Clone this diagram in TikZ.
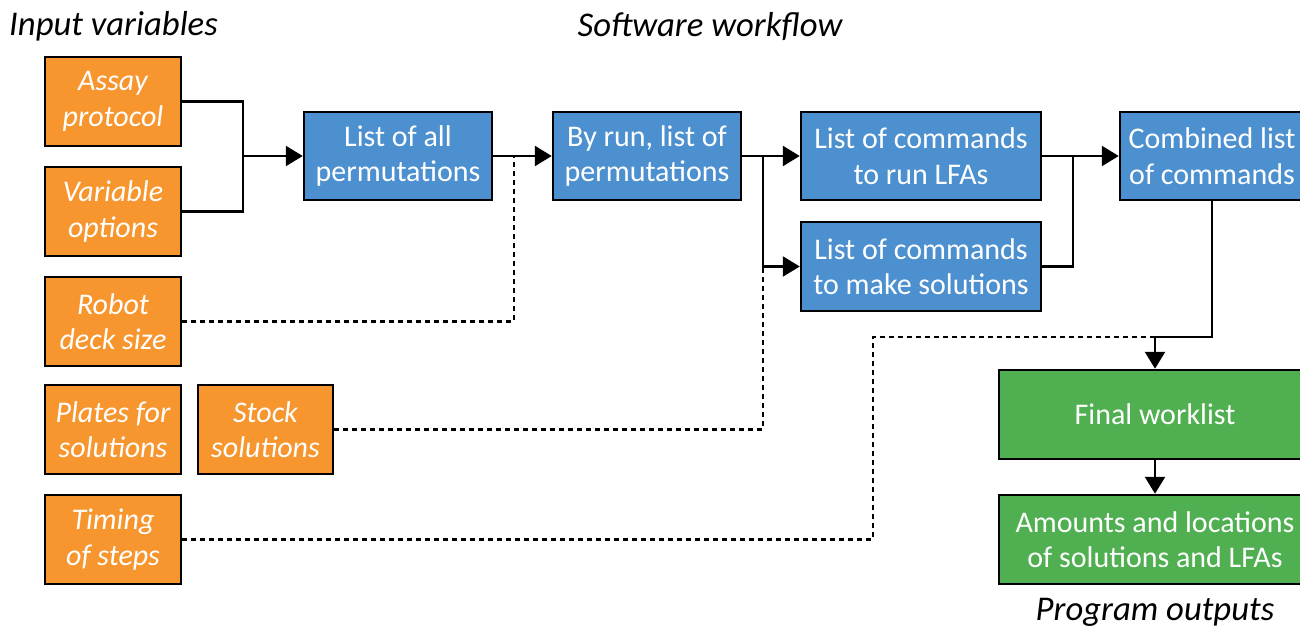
\documentclass[tikz,border=0pt]{standalone}
\usepackage{fontspec}
\setmainfont{Carlito}
\usetikzlibrary{arrows.meta}
\definecolor{orng}{HTML}{F7962F}
\definecolor{blu}{HTML}{4D90CF}
\definecolor{grn}{HTML}{50AF50}
\begin{document}
\begin{tikzpicture}[x=1pt,y=-1pt,
  box/.style={draw=black, line width=2.5pt, text=white, align=center, inner sep=0pt,
    font=\fontsize{30}{35.5}\selectfont},
  inbox/.style={box, fill=orng, minimum width=136pt, minimum height=89pt,
    font=\itshape\fontsize{30}{35.5}\selectfont},
  wbox/.style={box, fill=blu, minimum height=88pt},
  obox/.style={box, fill=grn, minimum width=312pt, minimum height=89pt},
  ttl/.style={font=\itshape\fontsize{34.7}{40}\selectfont, inner sep=0pt},
  conn/.style={line width=2.5pt},
  arr/.style={conn, -{Triangle[length=17pt,width=20pt]}},
  dot/.style={line width=2.5pt, dash pattern=on 5pt off 4pt}]
\useasboundingbox (0,0) rectangle (1300,628);
\fill[white] (0,0) rectangle (1300,628);
% titles
\node[ttl, anchor=west] (tin) at (9,26) {Input variables};
\node[ttl] (tsw) at (710,26) {Software workflow};
\node[ttl] (tout) at (1155,612) {Program outputs};
% inputs
\node[inbox] (assay) at (113,101.5) {Assay\\protocol};
\node[inbox] (var) at (113,211.5) {Variable\\options};
\node[inbox] (robot) at (113,321.5) {Robot\\deck size};
\node[inbox] (plates) at (113,429.5) {Plates for\\solutions};
\node[inbox, minimum width=135pt] (stock) at (265.5,429.5) {Stock\\solutions};
\node[inbox] (timing) at (113,539.5) {Timing\\of steps};
% workflow
\node[wbox, minimum width=188pt] (all) at (398,156) {List of all\\permutations};
\node[wbox, minimum width=188pt] (byrun) at (647,156) {By run, list of\\permutations};
\node[wbox, minimum width=240pt] (lfas) at (921,156) {List of commands\\to run LFAs};
\node[wbox, minimum width=240pt, minimum height=89pt] (make) at (921,266.5) {List of commands\\to make solutions};
\node[wbox, minimum width=184pt] (comb) at (1212,156) {Combined list\\of commands};
% outputs
\node[obox] (final) at (1155,414.5) {Final worklist};
\node[obox] (amt) at (1155,539.5) {Amounts and locations\\of solutions and LFAs};
% junctions
\coordinate (j1) at (243,156);
\coordinate (j2) at (763,156);
\coordinate (j3) at (1073,156);
\coordinate (j4) at (1155,337);
\coordinate (j5) at (514,156);
\coordinate (j6) at (763,266.5);
\coordinate (j7) at (873,337);
% connectors
\draw[conn] (assay.east) -| (j1) |- (var.east);
\draw[arr] (j1) -- (all.west);
\draw[arr] (all.east) -- (byrun.west);
\draw[arr] (byrun.east) -- (lfas.west);
\draw[arr] (j2) |- (make.west);
\draw[arr] (lfas.east) -- (comb.west);
\draw[conn] (make.east) -| (j3);
\draw[conn] (comb.south) |- (j4);
\draw[arr] (j4) -- (final.north);
\draw[arr] (final.south) -- (amt.north);
% dotted
\draw[dot] (robot.east) -| (j5);
\draw[dot] (stock.east) -| (j6);
\draw[dot] (timing.east) -| (j7) -- (j4);
\end{tikzpicture}
\end{document}
